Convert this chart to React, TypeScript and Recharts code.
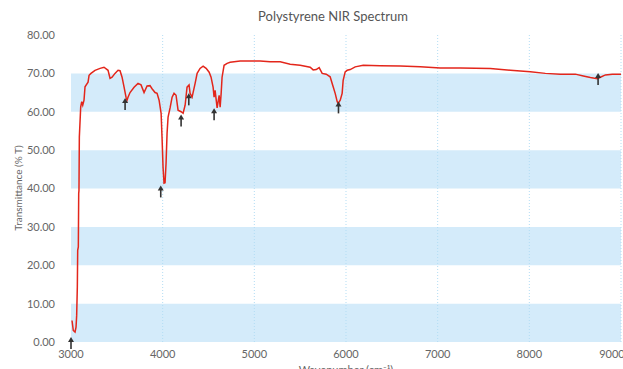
import React from 'react';
import {
  ComposedChart,
  Line,
  Scatter,
  XAxis,
  YAxis,
  ReferenceArea,
  ReferenceLine,
} from 'recharts';

// spectrum (wavenumber, %T)
const wavenumbers = [
  3011, 3025, 3044, 3055, 3062, 3069, 3073, 3080, 3084, 3087, 3091, 3106, 3117, 3128, 3142, 3153,
  3186, 3197, 3218, 3262, 3317, 3360, 3404, 3426, 3448, 3480, 3513, 3535, 3557, 3579, 3600, 3611,
  3622, 3644, 3688, 3731, 3764, 3797, 3830, 3862, 3884, 3917, 3939, 3961, 3983, 3993, 4004, 4015,
  4026, 4037, 4048, 4059, 4081, 4103, 4124, 4146, 4168, 4201, 4223, 4245, 4266, 4288, 4299, 4321,
  4354, 4376, 4408, 4441, 4474, 4507, 4528, 4550, 4561, 4572, 4583, 4594, 4616, 4627, 4638, 4648,
  4670, 4703, 4736, 4845, 5063, 5172, 5282, 5391, 5500, 5609, 5642, 5675, 5707, 5740, 5784, 5827,
  5860, 5882, 5904, 5915, 5937, 5958, 5969, 5991, 6013, 6046, 6100, 6188, 6373, 6592, 6810, 7028,
  7247, 7574, 7793, 8011, 8175, 8338, 8502, 8589, 8666, 8742, 8775, 8830, 8906, 9000,
];
const transmittance = [
  5.6, 3.0, 2.6, 3.9, 7.0, 14.3, 23.9, 24.8, 38.7, 39.5, 53.4, 61.3, 62.6, 61.7, 63.0, 66.5,
  67.7, 69.5, 70.0, 70.8, 71.3, 71.6, 70.8, 68.7, 69.0, 70.0, 70.8, 70.7, 69.0, 66.4, 63.8, 63.0,
  63.8, 65.0, 66.4, 67.4, 67.0, 65.0, 66.7, 66.8, 66.0, 65.0, 64.8, 63.0, 59.6, 53.4, 45.6, 41.4,
  41.5, 46.6, 54.4, 58.6, 61.0, 63.8, 64.8, 64.3, 60.4, 60.0, 59.6, 61.7, 66.4, 67.0, 64.8, 63.8,
  67.4, 70.0, 71.3, 71.9, 71.3, 70.3, 69.0, 66.4, 63.8, 65.6, 63.3, 61.0, 64.3, 61.2, 64.8, 69.0,
  72.1, 72.6, 72.9, 73.2, 73.2, 73.0, 73.0, 72.4, 72.1, 71.6, 70.9, 71.0, 71.5, 70.0, 69.8, 69.1,
  66.5, 64.8, 62.6, 62.2, 63.0, 64.8, 68.2, 70.4, 70.8, 71.0, 71.7, 72.1, 72.0, 71.9, 71.7, 71.4,
  71.4, 71.3, 70.8, 70.4, 70.0, 69.8, 69.8, 69.3, 68.9, 68.6, 69.0, 69.6, 69.8, 69.8,
];

// marked peaks (arrows)
const peakWavenumbers = [3000, 3590, 3979, 4201, 4285, 4561, 5918, 8750];
const peakValues = [1.3, 63.6, 40.8, 59.3, 64.8, 60.9, 62.7, 70.1];

const xTicks = [3000, 4000, 5000, 6000, 7000, 8000, 9000];
const yTicks = [0, 10, 20, 30, 40, 50, 60, 70, 80];
const bands = [[0, 10], [20, 30], [40, 50], [60, 70]];

const spectrum = wavenumbers.map((x, i) => ({ x, t: transmittance[i] }));
const peaks = peakWavenumbers.map((x, i) => ({ x, t: peakValues[i] }));

const Arrow = (props: any) => {
  const { cx, cy } = props;
  if (cx == null || cy == null) return null;
  return (
    <g>
      <line x1={cx} y1={cy + 3} x2={cx} y2={cy + 12} stroke="#333" strokeWidth={1.6} />
      <path d={`M${cx},${cy} L${cx - 3},${cy + 5} L${cx + 3},${cy + 5} Z`} fill="#333" />
    </g>
  );
};

const tickStyle = { fontSize: 11, fill: '#666', fontFamily: 'Lato' };

export default function App() {
  return (
    <div style={{ position: 'relative', width: 623, height: 369, fontFamily: 'Lato' }}>
      <style>{`body{margin:0}`}</style>
      <div
        style={{
          position: 'absolute',
          top: 8,
          left: 0,
          width: 666,
          textAlign: 'center',
          fontSize: 13,
          color: '#555',
        }}
      >
        Polystyrene NIR Spectrum
      </div>
      <div
        style={{
          position: 'absolute',
          left: 18,
          top: 188,
          transform: 'translate(-50%, -50%) rotate(-90deg)',
          fontSize: 10,
          color: '#666',
          whiteSpace: 'nowrap',
        }}
      >
        Transmittance (% T)
      </div>
      <ComposedChart
        width={623}
        height={369}
        margin={{ top: 35, right: 2, bottom: 0, left: 0 }}
        style={{ position: 'absolute', top: 0, left: 0 }}
      >
        {bands.map(([a, b]) => (
          <ReferenceArea key={a} y1={a} y2={b} x1={3000} x2={9000} fill="#d4ebfa" fillOpacity={1} stroke="none" />
        ))}
        {xTicks.slice(1).map((v) => (
          <ReferenceLine key={v} x={v} stroke="#b3ddf4" strokeDasharray="1 2" strokeWidth={1} />
        ))}
        <XAxis
          dataKey="x"
          type="number"
          domain={[3000, 9000]}
          ticks={xTicks}
          axisLine={false}
          tickLine={false}
          height={27}
          tick={tickStyle}
          label={{ value: 'Wavenumber (cm⁻¹)', position: 'insideBottom', offset: -5, fontSize: 11, fill: '#666' }}
        />
        <YAxis
          type="number"
          domain={[0, 80]}
          ticks={yTicks}
          axisLine={false}
          tickLine={false}
          width={71}
          tickMargin={10}
          tick={tickStyle}
          tickFormatter={(v: number) => v.toFixed(2)}
        />
        <Line
          data={spectrum}
          dataKey="t"
          type="linear"
          stroke="#e3261b"
          strokeWidth={1.5}
          dot={false}
          isAnimationActive={false}
        />
        <Scatter data={peaks} dataKey="t" shape={<Arrow />} isAnimationActive={false} />
      </ComposedChart>
    </div>
  );
}
